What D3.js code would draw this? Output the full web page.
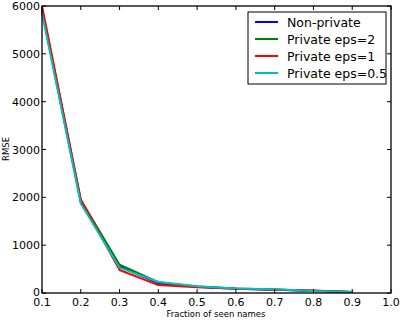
<!DOCTYPE html>
<html><head><meta charset="utf-8">
<script src="https://cdn.jsdelivr.net/npm/d3@7"></script>
<style>body{margin:0;background:#fff}svg{display:block;font-family:"DejaVu Sans",sans-serif}</style>
</head><body><svg id="c" width="402" height="320"></svg>
<script>
const fractions = [0.1,0.2,0.3,0.4,0.5,0.6,0.7,0.8,0.9];
const nonPrivate = [5900,1900,560,200,130,90,70,40,20];
const eps2 = [5950,1950,590,225,135,95,75,45,20];
const eps1 = [6000,1950,480,165,120,90,70,50,20];
const eps05 = [5850,1870,530,230,140,95,80,40,20];
const seriesNames = ["Non-private","Private eps=2","Private eps=1","Private eps=0.5"];
const seriesColors = ["#0000ff","#008000","#ff0000","#00bfbf"];
const xTicks = [0.1,0.2,0.3,0.4,0.5,0.6,0.7,0.8,0.9,1.0];
const yTicks = [0,1000,2000,3000,4000,5000,6000];

const allSeries = [nonPrivate, eps2, eps1, eps05];
const svg = d3.select("#c");
const L=42,R=391,T=6,B=293;
const x = d3.scaleLinear().domain([0.1,1.0]).range([L,R]);
const y = d3.scaleLinear().domain([0,6000]).range([B,T]);

const line = d3.line().x((d,i)=>x(fractions[i])).y(d=>y(d));
allSeries.forEach((s,k)=>{
  svg.append("path").attr("d",line(s)).attr("fill","none")
    .attr("stroke",seriesColors[k]).attr("stroke-width",2).attr("stroke-linejoin","round");
});

const g=svg.append("g");
xTicks.forEach(t=>{
  g.append("line").attr("x1",x(t)).attr("x2",x(t)).attr("y1",B).attr("y2",B-4).attr("stroke","#000");
  g.append("line").attr("x1",x(t)).attr("x2",x(t)).attr("y1",T).attr("y2",T+4).attr("stroke","#000");
  g.append("text").attr("x",x(t)).attr("y",B+12.5).attr("text-anchor","middle").attr("font-size",11).text(d3.format(".1f")(t));
});
yTicks.forEach(t=>{
  g.append("line").attr("x1",L).attr("x2",L+4).attr("y1",y(t)).attr("y2",y(t)).attr("stroke","#000");
  g.append("line").attr("x1",R).attr("x2",R-4).attr("y1",y(t)).attr("y2",y(t)).attr("stroke","#000");
  g.append("text").attr("x",L-2).attr("y",y(t)+(t===0?3:4)).attr("text-anchor","end").attr("font-size",11).text(t);
});
svg.append("rect").attr("x",L).attr("y",T).attr("width",R-L).attr("height",B-T)
  .attr("fill","none").attr("stroke","#000").attr("stroke-width",1.3);

svg.append("text").attr("x",216).attr("y",316.5).attr("text-anchor","middle").attr("font-size",8.5).text("Fraction of seen names");
svg.append("text").attr("transform","translate(9,149) rotate(-90)").attr("text-anchor","middle").attr("font-size",8.5).text("RMSE");

const lg=svg.append("g");
lg.append("rect").attr("x",248).attr("y",12).attr("width",138).attr("height",72).attr("fill","#fff").attr("stroke","#000").attr("stroke-width",1);
seriesNames.forEach((n,k)=>{
  const yy=22+k*17;
  lg.append("line").attr("x1",255).attr("x2",278).attr("y1",yy).attr("y2",yy).attr("stroke",seriesColors[k]).attr("stroke-width",2);
  lg.append("text").attr("x",287).attr("y",yy+4.5).attr("font-size",12.5).text(n);
});
</script></body></html>
